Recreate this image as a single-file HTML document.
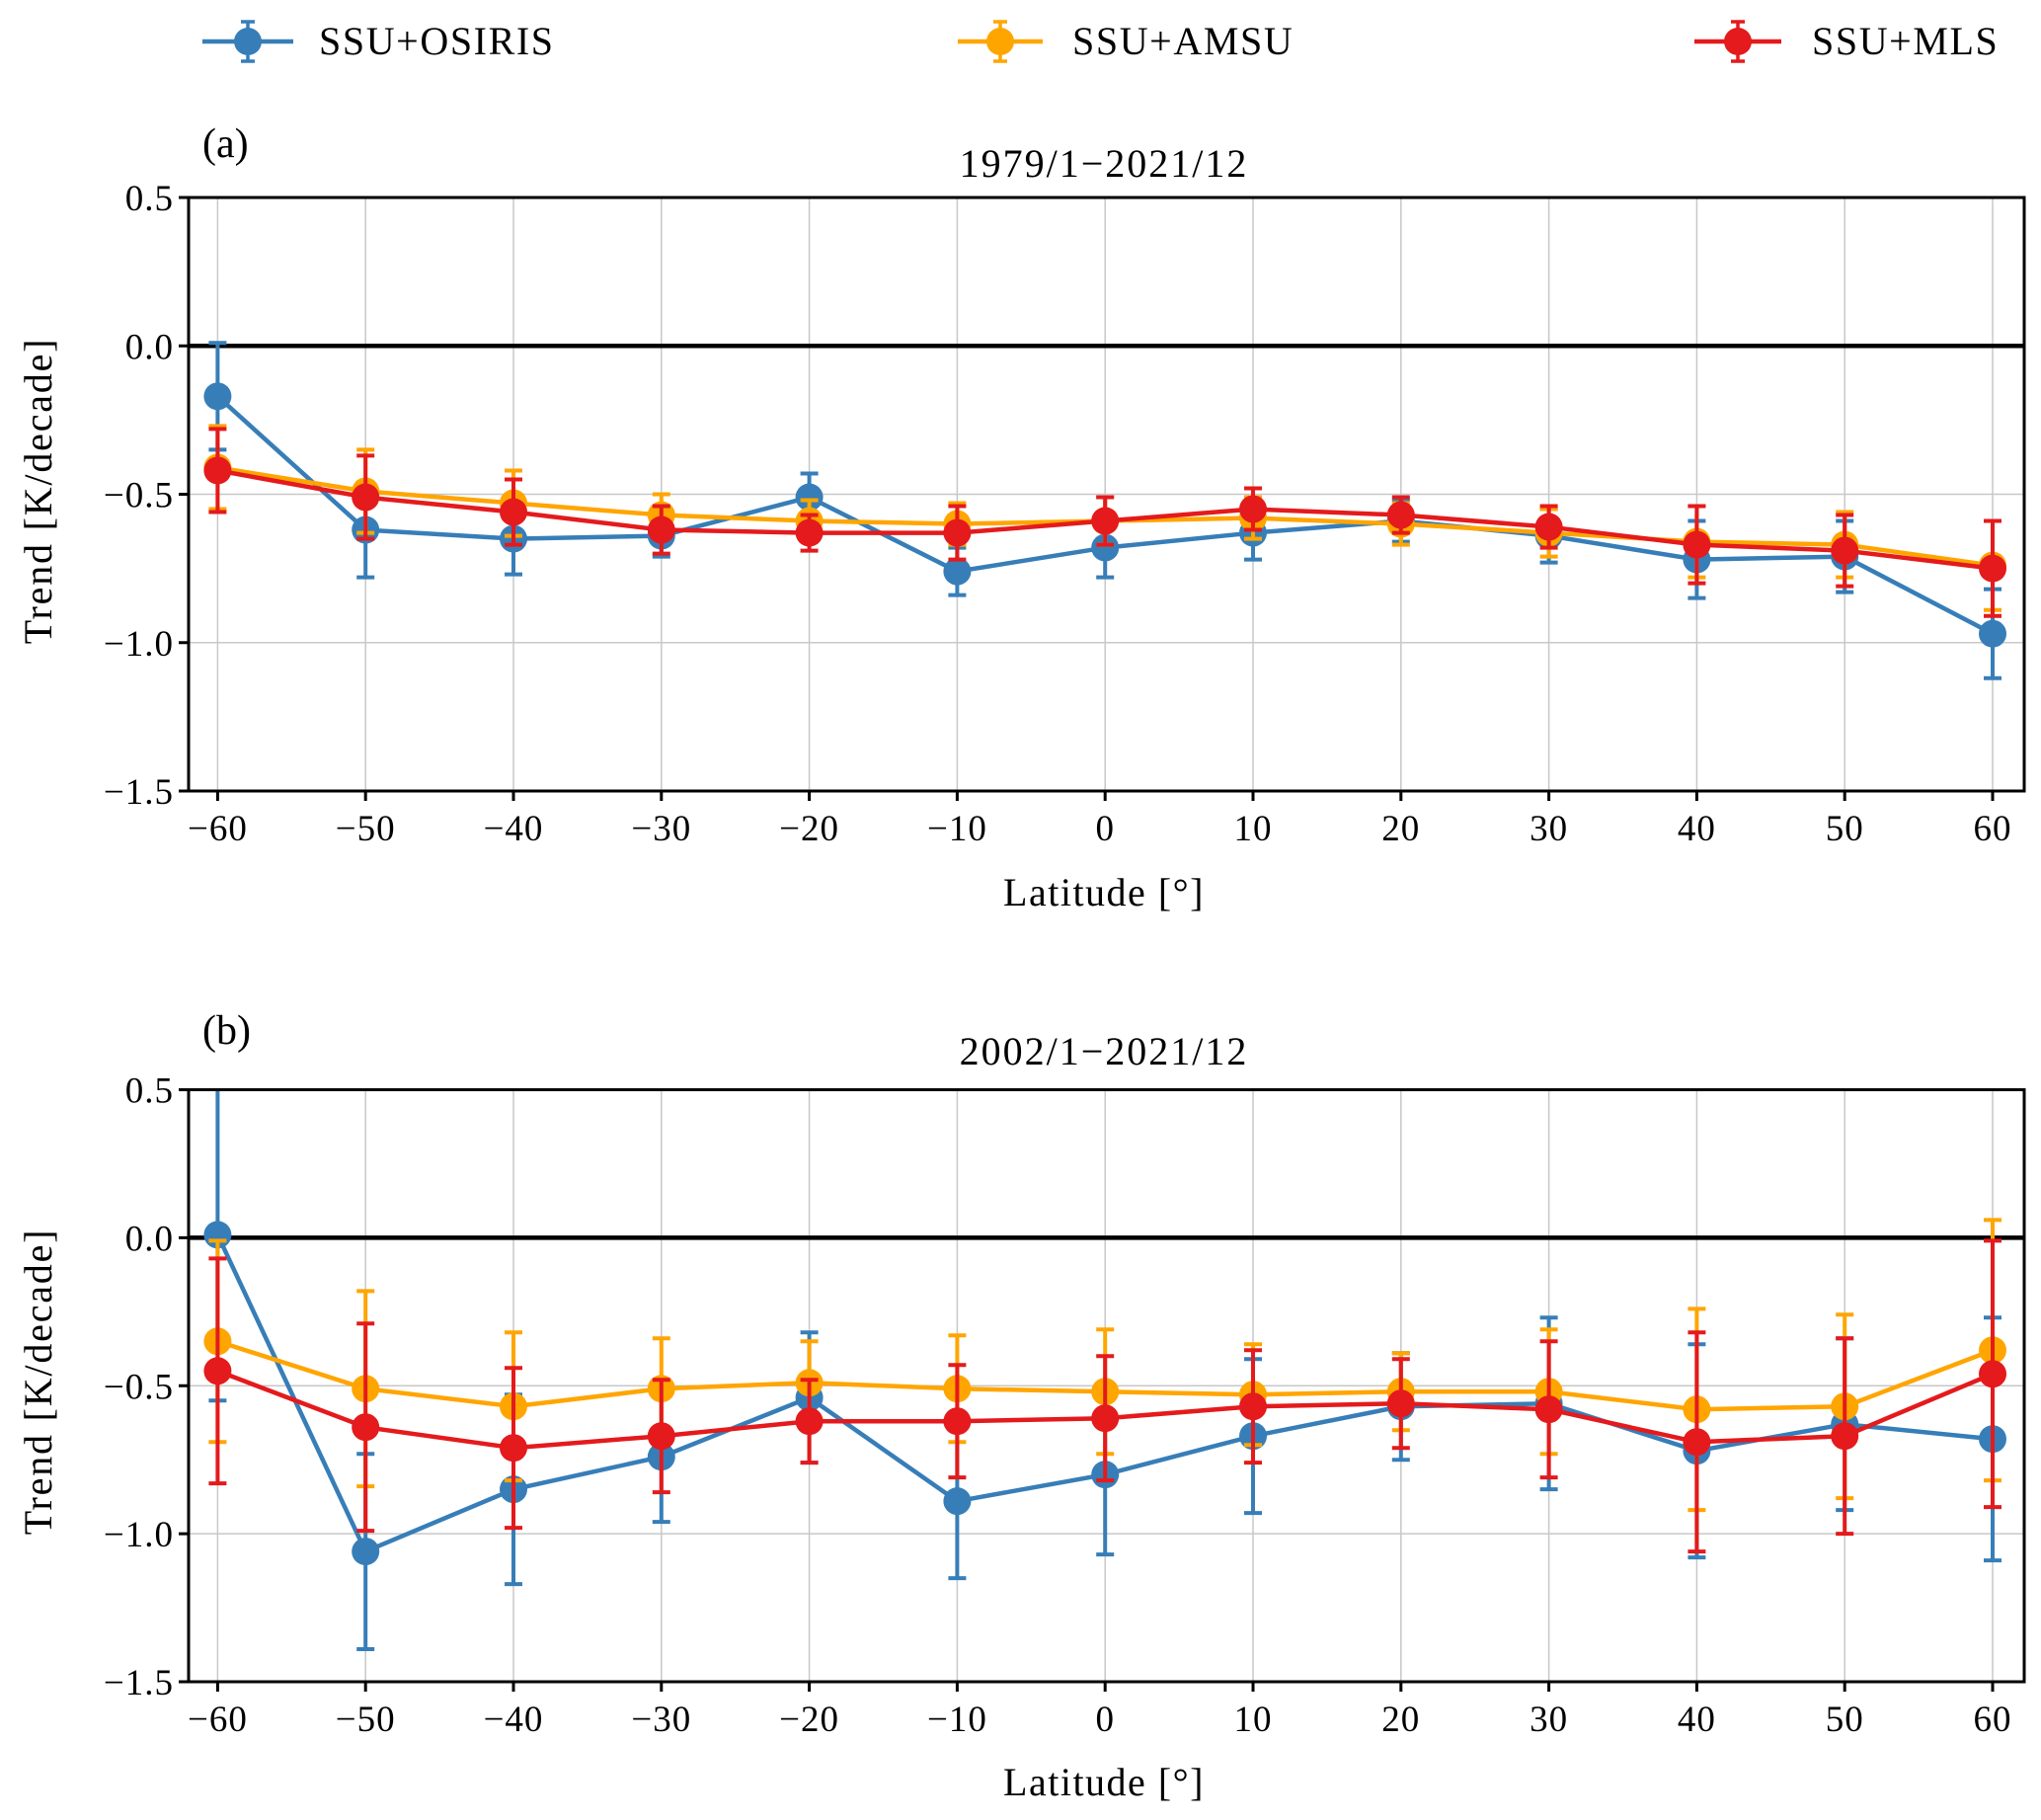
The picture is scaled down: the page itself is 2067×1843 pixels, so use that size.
<!DOCTYPE html>
<html><head><meta charset="utf-8">
<style>
html,body{margin:0;padding:0;background:#fff;}
svg{display:block;font-family:"Liberation Serif","DejaVu Serif",serif;}
</style></head>
<body>
<svg id="fig" width="2067" height="1843" viewBox="0 0 2067 1843"></svg>
<script>
const latitudes=[-60,-50,-40,-30,-20,-10,0,10,20,30,40,50,60];
const xTicks=[-60,-50,-40,-30,-20,-10,0,10,20,30,40,50,60];
const yTicks=[0.5,0.0,-0.5,-1.0,-1.5];
const yTickLabels=["0.5","0.0","\u22120.5","\u22121.0","\u22121.5"];
const seriesNames=["SSU+OSIRIS","SSU+AMSU","SSU+MLS"];
const titles=["1979/1\u22122021/12","2002/1\u22122021/12"];
const panelLabels=["(a)","(b)"];
const aOsiris=[-0.17,-0.62,-0.65,-0.64,-0.51,-0.76,-0.68,-0.63,-0.59,-0.64,-0.72,-0.71,-0.97];
const aOsirisErr=[0.18,0.16,0.12,0.07,0.08,0.08,0.10,0.09,0.07,0.09,0.13,0.12,0.15];
const aAmsu=[-0.41,-0.49,-0.53,-0.57,-0.59,-0.60,-0.59,-0.58,-0.60,-0.63,-0.66,-0.67,-0.74];
const aAmsuErr=[0.14,0.14,0.11,0.07,0.07,0.07,0.08,0.07,0.07,0.08,0.12,0.11,0.15];
const aMls=[-0.42,-0.51,-0.56,-0.62,-0.63,-0.63,-0.59,-0.55,-0.57,-0.61,-0.67,-0.69,-0.75];
const aMlsErr=[0.14,0.14,0.11,0.08,0.06,0.09,0.08,0.07,0.06,0.07,0.13,0.12,0.16];
const bOsiris=[0.01,-1.06,-0.85,-0.74,-0.54,-0.89,-0.80,-0.67,-0.57,-0.56,-0.72,-0.63,-0.68];
const bOsirisErr=[0.56,0.33,0.32,0.22,0.22,0.26,0.27,0.26,0.18,0.29,0.36,0.29,0.41];
const bAmsu=[-0.35,-0.51,-0.57,-0.51,-0.49,-0.51,-0.52,-0.53,-0.52,-0.52,-0.58,-0.57,-0.38];
const bAmsuErr=[0.34,0.33,0.25,0.17,0.14,0.18,0.21,0.17,0.13,0.21,0.34,0.31,0.44];
const bMls=[-0.45,-0.64,-0.71,-0.67,-0.62,-0.62,-0.61,-0.57,-0.56,-0.58,-0.69,-0.67,-0.46];
const bMlsErr=[0.38,0.35,0.27,0.19,0.14,0.19,0.21,0.19,0.15,0.23,0.37,0.33,0.45];

const colors=["#377eb8","#ffa500","#e41a1c"];
const NS="http://www.w3.org/2000/svg";
const svg=document.getElementById('fig');
function mk(tag,attrs,parent){const e=document.createElementNS(NS,tag);for(const k in attrs)e.setAttribute(k,attrs[k]);(parent||svg).appendChild(e);return e;}
const X0=191,X1=2050;
function xs(v){return 220.4+(v+60)*(2018-220.4)/120;}

// legend
const legX=[[205,297,323],[970,1056,1086],[1716,1804,1835]];
for(let i=0;i<3;i++){
  const g=mk('g',{});
  
  
  const [a,b,t]=legX[i];const cx=(a+b)/2,y=42;
  mk('line',{x1:a,y1:y,x2:b,y2:y,stroke:colors[i],'stroke-width':4.5},g);
  mk('line',{x1:cx,y1:y-20,x2:cx,y2:y+20,stroke:colors[i],'stroke-width':3.5},g);
  mk('line',{x1:cx-7,y1:y-20,x2:cx+7,y2:y-20,stroke:colors[i],'stroke-width':3.5},g);
  mk('line',{x1:cx-7,y1:y+20,x2:cx+7,y2:y+20,stroke:colors[i],'stroke-width':3.5},g);
  mk('circle',{cx:cx,cy:y,r:14,fill:colors[i]},g);
  const tx=mk('text',{x:t,y:y+13,'font-size':40,'letter-spacing':1.6},g);tx.textContent=seriesNames[i];
}

const panels=[
 {top:200,bottom:801,data:[[aOsiris,aOsirisErr],[aAmsu,aAmsuErr],[aMls,aMlsErr]],lab:[205,145],title:165,xl:903,yl:497},
 {top:1103.5,bottom:1703,data:[[bOsiris,bOsirisErr],[bAmsu,bAmsuErr],[bMls,bMlsErr]],lab:[205,1043],title:1064,xl:1804,yl:1399}
];
panels.forEach((p,pi)=>{
  const g=mk('g',{});
  
  
  const ys=v=>p.top+(0.5-v)*(p.bottom-p.top)/2.0;
  const clipId='clip'+pi;
  const cp=mk('clipPath',{id:clipId},g);mk('rect',{x:X0,y:p.top,width:X1-X0,height:p.bottom-p.top},cp);
  xTicks.forEach(t=>{mk('line',{x1:xs(t),y1:p.top,x2:xs(t),y2:p.bottom,stroke:'#c8c8c8','stroke-width':1.5},g);});
  yTicks.forEach(t=>{mk('line',{x1:X0,y1:ys(t),x2:X1,y2:ys(t),stroke:'#c8c8c8','stroke-width':1.5},g);});
  const z=mk('line',{x1:X0,y1:ys(0),x2:X1,y2:ys(0),stroke:'#000','stroke-width':4.5},g);
  
  
  const sg=mk('g',{'clip-path':'url(#'+clipId+')'},g);
  p.data.forEach(([vals,errs],si)=>{
    const s=mk('g',{},sg);
    
    
    vals.forEach((v,i)=>{
      const x=xs(latitudes[i]);
      const y1=ys(v+errs[i]),y2=ys(v-errs[i]);
      mk('line',{x1:x,y1:y1,x2:x,y2:y2,stroke:colors[si],'stroke-width':4},s);
      mk('line',{x1:x-9,y1:y1,x2:x+9,y2:y1,stroke:colors[si],'stroke-width':4},s);
      mk('line',{x1:x-9,y1:y2,x2:x+9,y2:y2,stroke:colors[si],'stroke-width':4},s);
    });
    const pts=vals.map((v,i)=>xs(latitudes[i])+','+ys(v)).join(' ');
    mk('polyline',{points:pts,fill:'none',stroke:colors[si],'stroke-width':4.5},s);
    vals.forEach((v,i)=>{
      const c=mk('circle',{cx:xs(latitudes[i]),cy:ys(v),r:14,fill:colors[si]},s);
      
      
    });
  });
  mk('rect',{x:X0,y:p.top,width:X1-X0,height:p.bottom-p.top,fill:'none',stroke:'#000','stroke-width':3},g);
  xTicks.forEach(t=>{
    mk('line',{x1:xs(t),y1:p.bottom,x2:xs(t),y2:p.bottom+10,stroke:'#000','stroke-width':3},g);
    const tx=mk('text',{x:xs(t),y:p.bottom+50,'font-size':37,'text-anchor':'middle','letter-spacing':1},g);
    tx.textContent=t<0?'\u2212'+(-t):String(t);
  });
  yTicks.forEach((t,i)=>{
    mk('line',{x1:X0-10,y1:ys(t),x2:X0,y2:ys(t),stroke:'#000','stroke-width':3},g);
    const tx=mk('text',{x:X0-15,y:ys(t)+13,'font-size':37,'text-anchor':'end','letter-spacing':1},g);
    tx.textContent=yTickLabels[i];
  });
  const pl=mk('text',{x:p.lab[0],y:p.lab[1]+14,'font-size':42},g);pl.textContent=panelLabels[pi];
  const tt=mk('text',{x:1118,y:p.title+14,'font-size':40,'text-anchor':'middle','letter-spacing':2},g);tt.textContent=titles[pi];
  
  
  const xl=mk('text',{x:1118,y:p.xl+14,'font-size':40,'text-anchor':'middle','letter-spacing':1.5},g);xl.textContent='Latitude [\u00b0]';
  
  
  const yl=mk('text',{x:0,y:0,'font-size':40,'text-anchor':'middle','letter-spacing':1.8,transform:'translate(52,'+p.yl+') rotate(-90)'},g);yl.textContent='Trend [K/decade]';
  
  
});
</script>
</body></html>
